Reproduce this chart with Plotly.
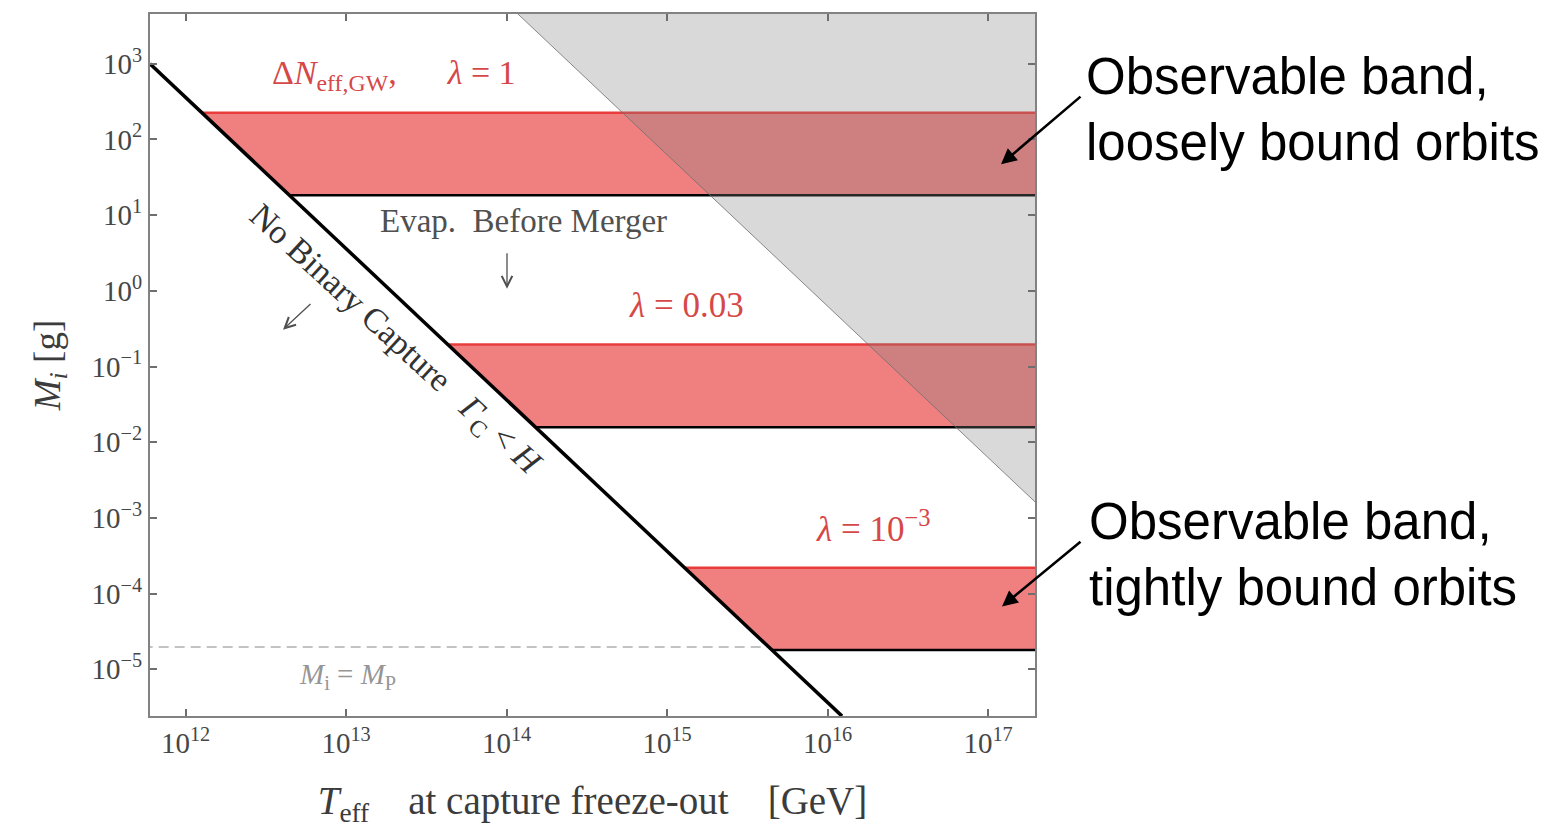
import numpy as np
import plotly.graph_objects as go

# ---------------- data ----------------
# "No binary capture" boundary (power law, two end points)
capture_T = [6.0e11, 1.23e16]          # GeV
capture_M = [1.0e3, 2.4e-6]            # g

# evaporation-before-merger boundary (grey region above/right of it)
evap_T = [1.0e14, 2.5e17]
evap_M = [6.3e3, 1.0e-3]

# observable bands for three lambda values
band_lambda = ["1", "0.03", "1e-3"]
band_M_top = [2.26e2, 1.95e-1, 2.2e-4]
band_M_bot = [1.83e1, 1.57e-2, 1.8e-5]

# Planck mass line
M_planck = 1.96e-5

# axis ranges
T_range = [6.0e11, 1.96e17]
M_range = [2.41e-6, 4.55e3]

x_tick_vals = [1e12, 1e13, 1e14, 1e15, 1e16, 1e17]
x_tick_text = ["10<sup>12</sup>", "10<sup>13</sup>", "10<sup>14</sup>",
               "10<sup>15</sup>", "10<sup>16</sup>", "10<sup>17</sup>"]
y_tick_vals = [1e3, 1e2, 1e1, 1e0, 1e-1, 1e-2, 1e-3, 1e-4, 1e-5]
y_tick_text = ["10<sup>3</sup>", "10<sup>2</sup>", "10<sup>1</sup>", "10<sup>0</sup>",
               "10<sup>\u22121</sup>", "10<sup>\u22122</sup>", "10<sup>\u22123</sup>",
               "10<sup>\u22124</sup>", "10<sup>\u22125</sup>"]

# ---------------- helpers ----------------
def T_on_capture(M):
    """T where the capture boundary reaches mass M (straight line in log-log)."""
    lx = np.log10(capture_T)
    ly = np.log10(capture_M)
    slope = (ly[1] - ly[0]) / (lx[1] - lx[0])
    return 10 ** (lx[0] + (np.log10(M) - ly[0]) / slope)

SERIF = "Liberation Serif"
SANS = "Liberation Sans"
RED_FILL = "rgb(240,128,128)"
RED_EDGE = "rgb(232,60,60)"
RED_TEXT = "rgb(214,72,72)"

W, H = 1564, 828
L, R, T, B = 150, 1035, 12, 717


def px(xp):
    return (xp - L) / (R - L)


def py(yp):
    return (B - yp) / (B - T)


fig = go.Figure()

T_right = T_range[1] * 1.5

# bands
for lam, mt, mb in zip(band_lambda, band_M_top, band_M_bot):
    t_top = T_on_capture(mt)
    t_bot = T_on_capture(mb)
    fig.add_trace(go.Scatter(
        x=[t_top, T_right, T_right, t_bot, t_top],
        y=[mt, mt, mb, mb, mt],
        mode="lines", fill="toself", fillcolor=RED_FILL,
        line=dict(width=0), hoverinfo="skip", showlegend=False))
    fig.add_trace(go.Scatter(
        x=[t_top, T_right], y=[mt, mt], mode="lines",
        line=dict(color=RED_EDGE, width=2.5), hoverinfo="skip", showlegend=False))
    fig.add_trace(go.Scatter(
        x=[t_bot, T_right], y=[mb, mb], mode="lines",
        line=dict(color="black", width=2.5), hoverinfo="skip", showlegend=False))

# grey evaporation region (drawn on top, semi-transparent)
fig.add_trace(go.Scatter(
    x=[evap_T[0], evap_T[1], evap_T[1], evap_T[0]],
    y=[evap_M[0], evap_M[1], evap_M[0], evap_M[0]],
    mode="lines", fill="toself", fillcolor="rgba(128,128,128,0.30)",
    line=dict(width=0), hoverinfo="skip", showlegend=False))
fig.add_trace(go.Scatter(
    x=evap_T, y=evap_M, mode="lines",
    line=dict(color="rgba(110,110,110,0.8)", width=1), hoverinfo="skip", showlegend=False))

# Planck mass dashed line
fig.add_trace(go.Scatter(
    x=[T_range[0] * 0.9, T_on_capture(M_planck)], y=[M_planck, M_planck], mode="lines",
    line=dict(color="rgb(195,195,195)", width=2, dash="10px,6px"),
    hoverinfo="skip", showlegend=False))

# capture boundary
fig.add_trace(go.Scatter(
    x=capture_T, y=capture_M, mode="lines",
    line=dict(color="black", width=3.5), hoverinfo="skip", showlegend=False))

ann = []


def text(xp, yp, s, size, color, family=SERIF, angle=0, xanchor="center", align="center"):
    ann.append(dict(x=px(xp), y=py(yp), xref="paper", yref="paper", text=s,
                    showarrow=False, font=dict(family=family, size=size, color=color),
                    textangle=angle, xanchor=xanchor, yanchor="middle", align=align))


def arrow(x_tip, y_tip, x_tail, y_tail, color, width, head, size):
    ann.append(dict(x=px(x_tip), y=py(y_tip), xref="paper", yref="paper", text="",
                    showarrow=True, ax=x_tail - x_tip, ay=y_tail - y_tip,
                    arrowcolor=color, arrowwidth=width, arrowhead=head, arrowsize=size))


text(394, 73, "\u0394<i>N</i><sub>eff,GW</sub>,\u2003\u2002<i>\u03bb</i> = 1", 34, RED_TEXT)
text(686, 305, "<i>\u03bb</i> = 0.03", 35, RED_TEXT)
text(873, 527, "<i>\u03bb</i> = 10<sup>\u22123</sup>", 35, RED_TEXT)
text(523, 220, "Evap.  Before Merger", 33, "rgb(80,80,80)")
text(395, 340, "No Binary Capture\u2002 <i>\u0393</i><sub>C</sub> &lt; <i>H</i>", 34,
     "rgb(50,50,50)", angle=42.5)
text(347, 677, "<i>M</i><sub>i</sub> = <i>M</i><sub>P</sub>", 29, "rgb(150,150,150)")

arrow(507, 288, 507, 251, "rgb(80,80,80)", 1.3, 5, 1.6)
arrow(283, 329, 312, 302, "rgb(80,80,80)", 1.3, 5, 1.6)

# outside notes
text(1084, 108, "Observable band,<br>loosely bound orbits", 51, "black", family=SANS,
     xanchor="left", align="left")
text(1087, 555, "Observable band,<br>tightly bound orbits", 51, "black", family=SANS,
     xanchor="left", align="left")
arrow(1001, 163, 1082, 94, "black", 2.6, 2, 1.2)
arrow(1002, 607, 1082, 541, "black", 2.6, 2, 1.2)

axis_common = dict(
    showline=True, linecolor="rgb(130,130,130)", linewidth=2, mirror="ticks",
    ticks="inside", ticklen=7, tickwidth=1.5, tickcolor="rgb(110,110,110)",
    showgrid=False, zeroline=False,
    tickfont=dict(family=SERIF, size=29, color="rgb(70,70,70)"),
)

fig.update_xaxes(type="log", range=[np.log10(T_range[0]), np.log10(T_range[1])],
                 tickvals=x_tick_vals, ticktext=x_tick_text,
                 title=dict(text="<i>T</i><sub>eff</sub>\u2003at capture freeze-out\u2003[GeV]",
                            font=dict(family=SERIF, size=39, color="rgb(60,60,60)"),
                            standoff=30),
                 **axis_common)
fig.update_yaxes(type="log", range=[np.log10(M_range[0]), np.log10(M_range[1])],
                 tickvals=y_tick_vals, ticktext=y_tick_text,
                 title=dict(text="<i>M<sub>i</sub></i> [g]",
                            font=dict(family=SERIF, size=37, color="rgb(60,60,60)"),
                            standoff=20),
                 **axis_common)

fig.update_layout(
    width=W, height=H, autosize=False,
    margin=dict(l=L, r=W - R, t=T, b=H - B),
    plot_bgcolor="white", paper_bgcolor="white",
    annotations=ann, showlegend=False,
)

fig.write_html("out.html", config={"displayModeBar": False})
